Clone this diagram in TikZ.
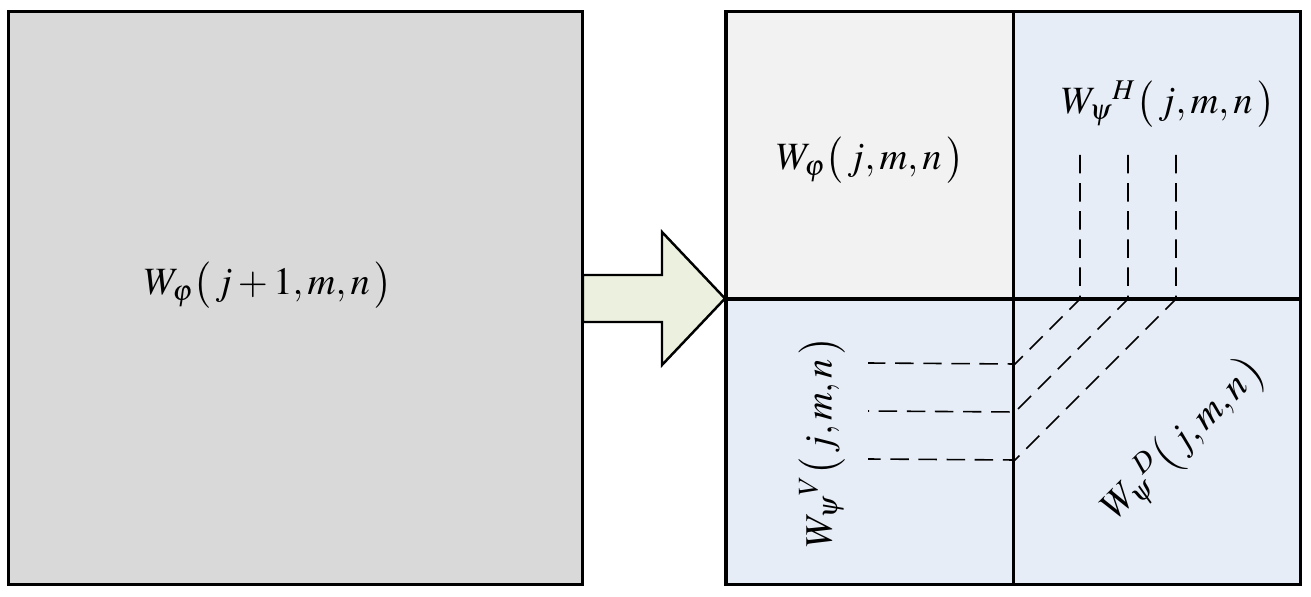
\documentclass[tikz,border=0pt]{standalone}
\usepackage{mathptmx}
\usetikzlibrary{positioning}
\definecolor{coarsegray}{HTML}{D9D9D9}
\definecolor{approxgray}{HTML}{F2F2F2}
\definecolor{detailblue}{HTML}{E6EDF6}
\definecolor{arrowgreen}{HTML}{EBF1DE}

\begin{document}
\begin{tikzpicture}[x=0.02cm, y=-0.02cm,
    frame/.style={draw, line width=2pt},
    guide/.style={line width=0.9pt, dash pattern=on 10.5pt off 5.5pt},
    coef/.style={font=\fontsize{22}{26}\selectfont, inner sep=0pt}]
    \useasboundingbox (0, 0) rectangle (1311, 597);
    % input image
    \filldraw[frame, fill=coarsegray] (8.5, 11.5) rectangle (582.5, 584.5);
    % the four sub-bands
    \fill[approxgray] (726, 11.5) rectangle (1013.5, 299);
    \fill[detailblue] (1013.5, 11.5) rectangle (1300.5, 299);
    \fill[detailblue] (726, 299) rectangle (1300.5, 584.5);
    \coordinate (h1) at (1080, 155);
    \coordinate (h2) at (1128, 155);
    \coordinate (h3) at (1176, 155);
    \coordinate (v1) at (868, 363);
    \coordinate (v2) at (868, 411);
    \coordinate (v3) at (868, 459);
    \draw[guide]
    (h1) -- (1080, 299) -- (1015, 364) -- (v1)
    (h2) -- (1128, 299) -- (1015, 412) -- (v2)
    (h3) -- (1176, 299) -- (1015, 460) -- (v3);
    \draw[frame] (726, 11.5) rectangle (1300.5, 584.5);
    \draw[frame] (1013.5, 11.5) -- (1013.5, 584.5);
    \draw[frame] (726, 299) -- (1300.5, 299);
    % transform arrow
    \filldraw[fill=arrowgreen, line width=1.4pt, line join=miter]
    (583, 275) -- (662, 275) -- (662, 232) -- (725, 298.5)
    -- (662, 365) -- (662, 322) -- (583, 322) -- cycle;
    \node[coef] (in) at (268, 285) {$W_{\varphi}\bigl(\,j+1,m,n\,\bigr)$};
    \node[coef] (a) at (870, 160) {$W_{\varphi}\bigl(\,j,m,n\,\bigr)$};
    \node[coef] (h) at (1168, 104) {${W_{\psi}}^{H}\bigl(\,j,m,n\,\bigr)$};
    \node[coef, rotate=90] (v) at (822, 442) {${W_{\psi}}^{V}\bigl(\,j,m,n\,\bigr)$};
    \node[coef, rotate=45] (d) at (1184, 440) {${W_{\psi}}^{D}\bigl(\,j,m,n\,\bigr)$};
\end{tikzpicture}
\end{document}
